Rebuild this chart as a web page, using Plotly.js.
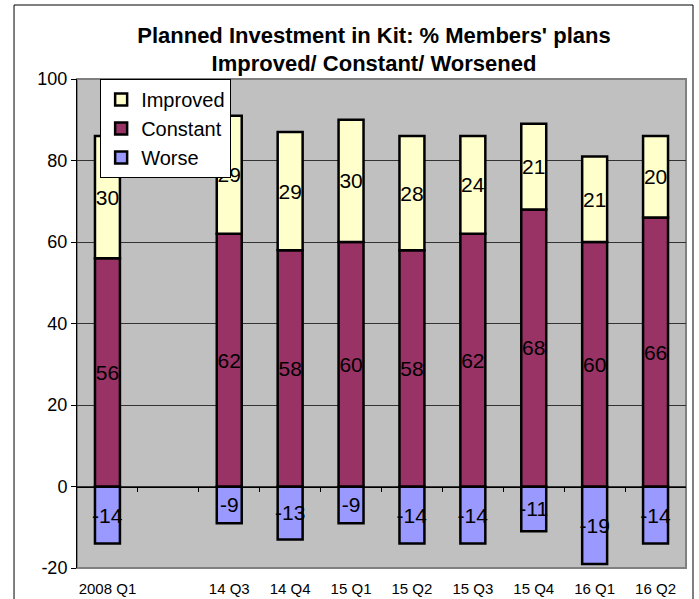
<!DOCTYPE html>
<html>
<head>
<meta charset="utf-8">
<script src="https://cdn.plot.ly/plotly-3.0.1.min.js"></script>
<style>
html,body{margin:0;padding:0;background:#fff;}
#chart{width:699px;height:599px;}
</style>
</head>
<body>
<div id="chart"></div>
<script>
const categories = ["2008 Q1", " ", "14 Q3", "14 Q4", "15 Q1", "15 Q2", "15 Q3", "15 Q4", "16 Q1", "16 Q2"];
const improved = [30, null, 29, 29, 30, 28, 24, 21, 21, 20];
const constant = [56, null, 62, 58, 60, 58, 62, 68, 60, 66];
const worse = [-14, null, -9, -13, -9, -14, -14, -11, -19, -14];
const yTicks = [-20, 0, 20, 40, 60, 80, 100];

const FONT = "Arial, 'Liberation Sans', sans-serif";
function labels(arr){ return arr.map(v => v === null ? "" : String(v)); }
function barTrace(name, vals, color){
  return {
    type: "bar", name: name, x: categories, y: vals,
    text: labels(vals), textposition: "inside", insidetextanchor: "middle",
    textangle: 0, constraintext: "none", cliponaxis: false,
    textfont: {family: FONT, size: 21, color: "#000"},
    marker: {color: color, line: {color: "#000", width: 2.5}},
    width: 0.41, hoverinfo: "skip"
  };
}
const data = [
  barTrace("Worse", worse, "#9999FF"),
  barTrace("Constant", constant, "#993366"),
  barTrace("Improved", improved, "#FFFFCC")
];

const layout = {
  width: 699, height: 599,
  margin: {l: 77, r: 13, t: 79, b: 31},
  paper_bgcolor: "#fff", plot_bgcolor: "#C0C0C0",
  barmode: "relative", bargap: 0.59,
  font: {family: FONT, color: "#000"},
  title: {
    text: "<b>Planned Investment in Kit: % Members' plans<br>Improved/ Constant/ Worsened</b>",
    font: {family: FONT, size: 22, color: "#000"},
    x: 0.535, xanchor: "center", xref: "container",
    y: 0.929, yanchor: "middle", yref: "container"
  },
  xaxis: {
    type: "category", categoryorder: "array", categoryarray: categories,
    range: [-0.5, 9.5], showgrid: false, zeroline: false, showline: false,
    ticks: "", tickfont: {family: FONT, size: 15, color: "#000"}, ticklabelstandoff: 10
  },
  xaxis2: {
    overlaying: "x", anchor: "free", position: 20/120, type: "linear",
    range: [-0.5, 9.5], tickvals: categories.map((c,i)=>i+0.5).slice(0, categories.length-1),
    showticklabels: false, ticks: "outside", ticklen: 4, tickcolor: "#000", tickwidth: 1,
    showline: true, linecolor: "#000", linewidth: 1, showgrid: false, zeroline: false
  },
  yaxis: {
    range: [-20, 100], tickvals: yTicks, ticktext: yTicks.map(String),
    showgrid: true, gridcolor: "#333", gridwidth: 1, zeroline: false,
    showline: true, linecolor: "#000", linewidth: 1,
    ticks: "outside", ticklen: 5, tickcolor: "#000",
    tickfont: {family: FONT, size: 18, color: "#000"}
  },
  legend: {
    x: 0.038, xanchor: "left", y: 1.0, yanchor: "top",
    bgcolor: "#fff", bordercolor: "#000", borderwidth: 1,
    font: {family: FONT, size: 20, color: "#000"},
    traceorder: "reversed", itemwidth: 30
  },
  shapes: [
    {type: "rect", xref: "paper", yref: "paper", x0: 0, x1: 1, y0: 0, y1: 1,
     line: {color: "#808080", width: 2}, layer: "below"},
    {type: "rect", xref: "paper", yref: "paper", x0: -0.1034, x1: 1.0115, y0: -0.07, y1: 1.1513,
     line: {color: "#000", width: 1}}
  ],
  showlegend: true
};
// dummy trace to activate xaxis2
data.push({type: "scatter", x: [], y: [], xaxis: "x2", yaxis: "y", showlegend: false, hoverinfo: "skip"});

Plotly.newPlot("chart", data, layout, {displayModeBar: false, staticPlot: true});
</script>
</body>
</html>
